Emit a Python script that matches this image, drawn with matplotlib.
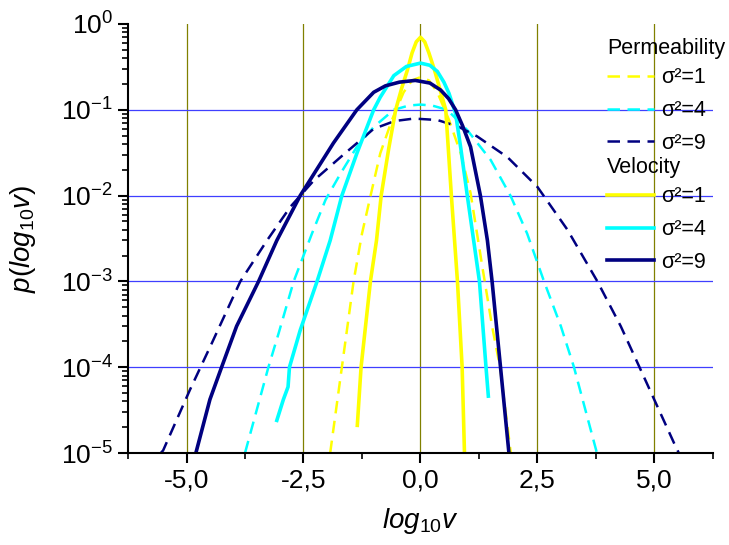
import matplotlib.pyplot as plt
from matplotlib.ticker import FixedLocator, FuncFormatter, LogLocator, NullFormatter

plt.rcParams['font.family'] = 'Liberation Sans'
plt.rcParams['mathtext.fontset'] = 'custom'
plt.rcParams['mathtext.rm'] = 'Liberation Sans'
plt.rcParams['mathtext.it'] = 'Liberation Sans:italic'

# permeability (dashed)
perm1_x = [-1.93, -1.68, -1.43, -1.25, -1.07, -0.86, -0.61, -0.36, -0.18, 0.0, 0.18, 0.36, 0.61, 0.86, 1.07, 1.32, 1.53, 1.70, 1.93]
perm1_p = [1e-5, 1e-4, 1e-3, 3.6e-3, 9.8e-3, 3.1e-2, 7.6e-2, 0.16, 0.22, 0.24, 0.22, 0.16, 7.6e-2, 3.1e-2, 1.07e-2, 1.5e-3, 3.0e-4, 1e-4, 1e-5]
perm4_x = [-3.75, -3.25, -3.03, -2.71, -2.32, -2.03, -1.71, -1.36, -1.0, -0.57, -0.25, 0.0, 0.25, 0.57, 1.0, 1.5, 1.93, 2.28, 2.64, 3.0, 3.28, 3.77]
perm4_p = [1e-5, 1e-4, 2.5e-4, 1e-3, 3.6e-3, 8.9e-3, 1.8e-2, 3.7e-2, 6.3e-2, 0.1, 0.112, 0.115, 0.112, 0.1, 5.8e-2, 2.6e-2, 9.8e-3, 3.6e-3, 1e-3, 3.0e-4, 1e-4, 1e-5]
perm9_x = [-5.55, -5.50, -4.93, -4.46, -3.85, -3.28, -2.78, -2.28, -1.71, -1.0, -0.55, -0.14, 0.36, 0.8, 1.21, 1.86, 2.5, 3.14, 3.78, 4.28, 4.68, 5.42, 5.52]
perm9_p = [1e-5, 1.07e-5, 5.4e-5, 1.9e-4, 1e-3, 3.0e-3, 7.4e-3, 1.5e-2, 2.8e-2, 6.0e-2, 7.4e-2, 7.9e-2, 7.6e-2, 6.4e-2, 4.9e-2, 2.8e-2, 1.26e-2, 4.0e-3, 1e-3, 3.0e-4, 1e-4, 1.3e-5, 1e-5]

# velocity (solid)
vel1_x = [-1.35, -1.27, -1.07, -0.94, -0.84, -0.68, -0.53, -0.40, -0.28, -0.18, -0.09, 0.0, 0.09, 0.18, 0.30, 0.42, 0.54, 0.66, 0.79, 0.89, 0.94]
vel1_p = [2.1e-5, 1e-4, 1e-3, 3.0e-3, 1e-2, 3.5e-2, 0.1, 0.18, 0.29, 0.46, 0.62, 0.70, 0.62, 0.46, 0.29, 0.17, 0.1, 1e-2, 1e-3, 1e-4, 1e-5]
vel4_x = [-3.07, -2.93, -2.83, -2.80, -2.57, -2.21, -1.93, -1.68, -1.36, -1.0, -0.86, -0.57, -0.3, 0.0, 0.2, 0.36, 0.5, 0.61, 0.75, 0.86, 1.0, 1.26, 1.40, 1.45]
vel4_p = [2.4e-5, 4.2e-5, 5.9e-5, 1e-4, 2.7e-4, 1e-3, 3.0e-3, 1e-2, 3.1e-2, 0.1, 0.14, 0.25, 0.32, 0.35, 0.33, 0.28, 0.21, 0.155, 9e-2, 3.6e-2, 1e-2, 1e-3, 1e-4, 4.6e-5]
vel9_x = [-4.80, -4.50, -4.25, -3.93, -3.46, -3.07, -2.57, -1.86, -1.36, -1.0, -0.75, -0.45, -0.11, 0.2, 0.43, 0.6, 0.75, 0.9, 1.07, 1.28, 1.43, 1.53, 1.71, 1.89]
vel9_p = [1e-5, 4.2e-5, 1e-4, 3.0e-4, 1e-3, 3.0e-3, 1e-2, 4.1e-2, 0.1, 0.16, 0.19, 0.21, 0.22, 0.205, 0.17, 0.135, 0.1, 6.5e-2, 3.7e-2, 1e-2, 3.0e-3, 1e-3, 1e-4, 1e-5]

x_ticks = [-5.0, -2.5, 0.0, 2.5, 5.0]
y_grid = [1e-1, 1e-2, 1e-3, 1e-4]

fig = plt.figure(figsize=(7.29, 5.45), dpi=100)
ax = fig.add_axes([0.1756, 0.1688, 0.8024, 0.7872])

for xv in x_ticks:
    ax.axvline(xv, color='#808000', lw=0.9, zorder=0)
for yv in y_grid:
    ax.axhline(yv, color='#3f3fff', lw=0.9, zorder=0)

dash = (0, (5, 3))
p1, = ax.plot(perm1_x, perm1_p, color='#ffff00', lw=1.8, ls=dash)
p4, = ax.plot(perm4_x, perm4_p, color='#00ffff', lw=1.8, ls=dash)
p9, = ax.plot(perm9_x, perm9_p, color='#000080', lw=1.8, ls=dash)
v1, = ax.plot(vel1_x, vel1_p, color='#ffff00', lw=2.6)
v4, = ax.plot(vel4_x, vel4_p, color='#00ffff', lw=2.6)
v9, = ax.plot(vel9_x, vel9_p, color='#000080', lw=2.6)

ax.set_yscale('log')
ax.set_ylim(1e-5, 1)
ax.set_xlim(-6.25, 6.25)
ax.xaxis.set_major_locator(FixedLocator(x_ticks))
ax.xaxis.set_minor_locator(FixedLocator([-6.25, -3.75, -1.25, 1.25, 3.75, 6.25]))
ax.xaxis.set_major_formatter(FuncFormatter(lambda v, pos: f'{v:.1f}'.replace('.', ',')))
ax.yaxis.set_major_locator(LogLocator(base=10, numticks=10))
ax.yaxis.set_minor_locator(LogLocator(base=10, subs=range(2, 10), numticks=10))
ax.yaxis.set_minor_formatter(NullFormatter())

for s in ['top', 'right']:
    ax.spines[s].set_visible(False)
for s in ['left', 'bottom']:
    ax.spines[s].set_linewidth(1.5)
ax.tick_params(which='major', direction='out', length=7, width=1.5, labelsize=19, pad=4)
ax.tick_params(which='minor', direction='out', length=4, width=1.2)

ax.set_xlabel(r'$\mathit{log_{10}v}$', fontsize=20, labelpad=10)
ax.set_ylabel(r'$\mathit{p(log_{10}v)}$', fontsize=20, labelpad=16)

leg_kw = dict(frameon=False, fontsize=15.5, title_fontsize=15.5, alignment='left',
              handlelength=2.2, handletextpad=0.3, labelspacing=0.55,
              borderpad=0, borderaxespad=0, loc='upper left')
sig = ['σ²=1', 'σ²=4', 'σ²=9']
leg1 = fig.legend([p1, p4, p9], sig, title='Permeability',
                  bbox_to_anchor=(607 / 729, 1 - 38 / 545), **leg_kw)
leg2 = fig.legend([v1, v4, v9], sig, title='Velocity',
                  bbox_to_anchor=(607 / 729, 1 - 157 / 545), **leg_kw)
for lg in (leg1, leg2):
    lg._legend_box.sep = 6

fig.savefig('out.png', dpi=100)
